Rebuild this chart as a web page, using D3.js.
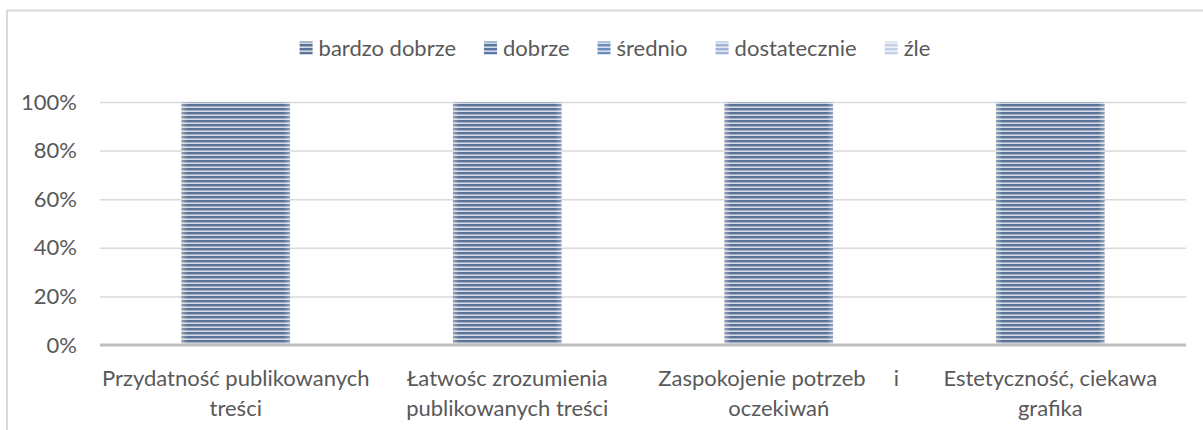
<!DOCTYPE html>
<html>
<head>
<meta charset="utf-8">
<script src="https://cdn.jsdelivr.net/npm/d3@7"></script>
<style>
  html, body { margin: 0; padding: 0; background: #fff; }
  svg { display: block; font-family: Lato, "Open Sans", sans-serif; }
</style>
</head>
<body>
<svg id="chart" width="1203" height="430"></svg>
<script>
// category labels, already split into the two lines shown under the axis
const categories = [
  ['Przydatność publikowanych', 'treści'],
  ['Łatwośc zrozumienia', 'publikowanych treści'],
  ['Zaspokojenie potrzeb     i', 'oczekiwań'],
  ['Estetyczność, ciekawa', 'grafika']
];
const seriesNames = ['bardzo dobrze', 'dobrze', 'średnio', 'dostatecznie', 'źle'];
const bardzoDobrze = [100, 100, 100, 100];
const dobrze = [0, 0, 0, 0];
const srednio = [0, 0, 0, 0];
const dostatecznie = [0, 0, 0, 0];
const zle = [0, 0, 0, 0];
const yTicks = [0, 0.2, 0.4, 0.6, 0.8, 1];

// stripe colours per series: [dark, light]
const stripes = [
  ['#5a7295', '#d3dae5'],
  ['#5a77a3', '#d2dbe9'],
  ['#6d8cc0', '#d6e0f0'],
  ['#9fb4d8', '#e3e9f4'],
  ['#c4d0e6', '#eef2f8']
];

const width = 1203;
const height = 430;
const margin = { left: 100, right: 17, top: 102, bottom: 85 };
const textColor = '#595959';
const fontSize = '22px';

const svg = d3.select('#chart');

// outer chart border (runs off the right and bottom of the picture)
svg.append('rect')
  .attr('x', 7).attr('y', 10.5)
  .attr('width', 1220).attr('height', 440)
  .attr('fill', 'none')
  .attr('stroke', '#d9d9d9')
  .attr('stroke-width', 2);

const defs = svg.append('defs');
stripes.forEach((c, i) => {
  const p = defs.append('pattern')
    .attr('id', 'stripe' + i)
    .attr('patternUnits', 'userSpaceOnUse')
    .attr('width', 8).attr('height', 4);
  p.append('rect').attr('width', 8).attr('height', 4).attr('fill', c[1]);
  p.append('rect').attr('width', 8).attr('height', 2).attr('fill', c[0]);
  p.append('rect').attr('y', 2).attr('width', 8).attr('height', 0.8).attr('fill', d3.interpolateRgb(c[0], c[1])(0.5));
});
const edge = defs.append('linearGradient').attr('id', 'edge');
edge.append('stop').attr('offset', '0%').attr('stop-color', '#fff').attr('stop-opacity', 0.35);
edge.append('stop').attr('offset', '6%').attr('stop-color', '#fff').attr('stop-opacity', 0);
edge.append('stop').attr('offset', '94%').attr('stop-color', '#fff').attr('stop-opacity', 0);
edge.append('stop').attr('offset', '100%').attr('stop-color', '#fff').attr('stop-opacity', 0.35);

const x = d3.scaleBand()
  .domain(d3.range(categories.length))
  .range([margin.left, width - margin.right])
  .paddingInner(0.6)
  .paddingOuter(0.3);

const y = d3.scaleLinear()
  .domain([0, 1])
  .range([height - margin.bottom, margin.top]);

// gridlines + y labels
const yAxis = svg.append('g')
  .attr('transform', `translate(${margin.left},0)`)
  .call(d3.axisLeft(y).tickValues(yTicks).tickFormat(d3.format('.0%'))
    .tickSize(-(width - margin.left - margin.right)).tickPadding(23));
yAxis.select('.domain').remove();
yAxis.selectAll('.tick line').attr('stroke', '#d9d9d9').attr('stroke-width', 1.5);
yAxis.selectAll('.tick text')
  .attr('fill', textColor)
  .style('font-size', fontSize)
  .style('font-family', 'Lato, sans-serif');

// stack the data as 100% shares
const table = categories.map((c, i) => {
  const row = { i: i };
  const vals = [bardzoDobrze[i], dobrze[i], srednio[i], dostatecznie[i], zle[i]];
  const total = d3.sum(vals);
  seriesNames.forEach((s, k) => { row[s] = vals[k] / total; });
  return row;
});
const stacked = d3.stack().keys(seriesNames)(table);

stacked.forEach((layer, k) => {
  const segs = layer.filter(d => d[1] - d[0] > 0);
  const g = svg.append('g');
  ['stripe' + k, 'edge'].forEach(fill => {
    g.append('g')
      .selectAll('rect')
      .data(segs)
      .join('rect')
      .attr('x', d => x(d.data.i))
      .attr('width', x.bandwidth())
      .attr('y', d => y(d[1]))
      .attr('height', d => y(d[0]) - y(d[1]))
      .attr('fill', `url(#${fill})`);
  });
});

// x axis line
svg.append('line')
  .attr('x1', margin.left).attr('x2', width - margin.right)
  .attr('y1', y(0)).attr('y2', y(0))
  .attr('stroke', '#bfbfbf')
  .attr('stroke-width', 3);

// category labels
const cat = svg.append('g')
  .selectAll('text')
  .data(categories)
  .join('text')
  .attr('x', (d, i) => x(i) + x.bandwidth() / 2)
  .attr('y', y(0) + 41)
  .attr('text-anchor', 'middle')
  .attr('fill', textColor)
  .style('font-size', fontSize)
  .style('white-space', 'pre');
cat.selectAll('tspan')
  .data(d => d)
  .join('tspan')
  .attr('x', function () { return d3.select(this.parentNode).attr('x'); })
  .attr('dy', (d, j) => j === 0 ? 0 : 30)
  .text(d => d);

// legend, centred
const legend = svg.append('g').attr('transform', 'translate(0,48)');
const items = legend.selectAll('g')
  .data(seriesNames)
  .join('g');
items.append('rect')
  .attr('y', -6.5)
  .attr('width', 13).attr('height', 13)
  .attr('fill', (d, i) => `url(#stripe${i})`);
items.append('text')
  .attr('x', 19)
  .attr('dy', '0.35em')
  .attr('fill', textColor)
  .style('font-size', fontSize)
  .text(d => d);
let pos = 0;
const offsets = [];
items.each(function () {
  offsets.push(pos);
  const w = d3.select(this).select('text').node().getComputedTextLength();
  pos += 19 + w + 28;
});
const total = pos - 28;
const start = 615 - total / 2;
items.attr('transform', (d, i) => `translate(${start + offsets[i]},0)`);
</script>
</body>
</html>
